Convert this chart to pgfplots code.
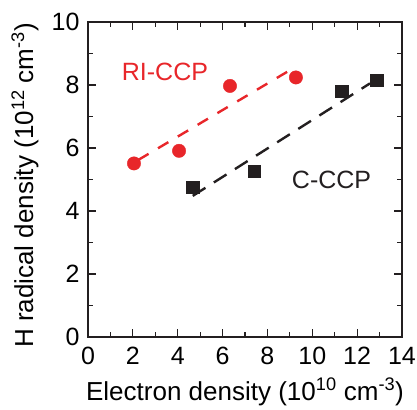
\documentclass[border=0pt]{standalone}
\usepackage{fontspec}
\setmainfont{Liberation Sans}
\usepackage{pgfplots}
\pgfplotsset{compat=1.18}
\definecolor{rojo}{HTML}{E8262A}
\definecolor{negro}{HTML}{231F20}
\newcommand{\fnt}{\fontsize{25}{29}\selectfont}
\newcommand{\lfnt}{\fontsize{26}{30}\selectfont}

\begin{document}
\fnt
\begin{tikzpicture}
  \useasboundingbox (-88pt,-72pt) rectangle (329pt,337pt);
  \begin{axis}[
    at={(0pt,0pt)},anchor=south west,
    scale only axis,
    width=314pt,height=315pt,
    xmin=0,xmax=14,ymin=0,ymax=10,
    xtick distance=2,ytick distance=2,
    minor x tick num=1,minor y tick num=1,
    tick align=inside,
    major tick length=8pt,minor tick length=5pt,
    axis line style={line width=1.2pt,negro},
    tick style={line width=1.1pt,negro},
    /pgf/number format/assume math mode=true,
    ticklabel style={font=\fnt},
    xticklabel style={yshift=-2pt},
    xlabel={Electron density (10\textsuperscript{10} cm\textsuperscript{-3})},
    ylabel={H radical density (10\textsuperscript{12} cm\textsuperscript{-3})},
    label style={font=\lfnt},
    xlabel style={at={(axis description cs:0.5,0)},anchor=base,yshift=-63pt},
    ylabel style={at={(axis description cs:0,0.481)},anchor=center,yshift=63pt},
    clip=false
  ]
    % RI-CCP
    \addplot[only marks,mark=*,mark size=6.7pt,color=rojo] coordinates {
      (2.05,5.51) (4.06,5.91) (6.33,7.97) (9.27,8.24)};
    \addplot[rojo,line width=2.4pt,dash pattern=on 12pt off 11pt] coordinates {
      (2.24,5.62) (8.98,8.46)};
    % C-CCP
    \addplot[only marks,mark=square*,mark size=6.2pt,color=negro] coordinates {
      (4.67,4.75) (7.40,5.27) (11.32,7.81) (12.87,8.16)};
    \addplot[negro,line width=2.4pt,dash pattern=on 15pt off 10pt] coordinates {
      (4.67,4.48) (12.57,8.05)};
    \node[rojo,font=\fnt] at (axis cs:3.43,8.41) {RI-CCP};
    \node[negro,font=\fnt] at (axis cs:10.86,4.98) {C-CCP};
  \end{axis}
\end{tikzpicture}
\end{document}
